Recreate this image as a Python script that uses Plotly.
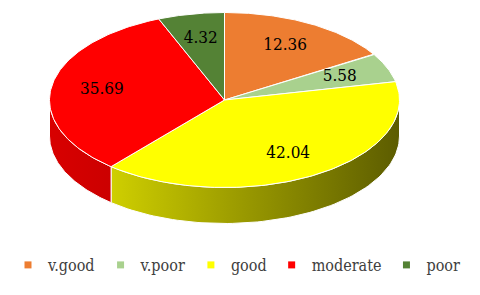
import numpy as np
import plotly.graph_objects as go

# ---- data ----
categories = ["v.good", "v.poor", "good", "moderate", "poor"]
values = [12.36, 5.58, 42.04, 35.69, 4.32]
top_colors = ["#ED7D31", "#A9D18E", "#FFFF00", "#FF0000", "#548235"]
side_scales = [
    [[0, "#D86A20"], [1, "#A04A10"]],
    [[0, "#90B878"], [1, "#6E9058"]],
    [[0, "#CFCF00"], [0.45, "#9A9A00"], [1, "#5C5C00"]],
    [[0, "#D80000"], [1, "#CC0000"]],
    [[0, "#4A7430"], [1, "#3A5C24"]],
]

LABEL_FONT = "DejaVu Serif Condensed"
LEGEND_FONT = "DejaVu Serif Condensed"

# ---- 3D-pie projection settings (page pixel units) ----
CX, CY = 224.5, 100.0      # centre of top face
RX, RY = 175.0, 87.5       # radii of top face ellipse
DEPTH = 36.0               # thickness of the pie
SKEW_A, SKEW_B = 7.0, 9.0  # perspective-like angular skew (degrees)
LABEL_R = 0.71
PAGE_OFF = 8               # browser body margin

def view_angle(t):
    r = np.radians(t)
    return t + SKEW_A * np.sin(r) + SKEW_B * np.sin(2 * r)

def rim(phi, dy=0.0):
    r = np.radians(phi)
    return CX + RX * np.sin(r), CY - RY * np.cos(r) + dy

total = sum(values)
cum = np.concatenate([[0], np.cumsum(values)]) / total * 360.0
bounds = view_angle(cum)

fig = go.Figure()

# sides (front half only)
for i in range(len(values)):
    a, b = max(bounds[i], 90.0), min(bounds[i + 1], 270.0)
    if b <= a:
        continue
    ph = np.linspace(a, b, 80)
    xt, yt = rim(ph)
    xb, yb = rim(ph[::-1], DEPTH)
    fig.add_trace(go.Scatter(
        x=np.concatenate([xt, xb, xt[:1]]), y=np.concatenate([yt, yb, yt[:1]]),
        mode="lines", fill="toself",
        fillgradient=dict(type="horizontal", colorscale=side_scales[i]),
        line=dict(color="white", width=1), showlegend=False, hoverinfo="skip"))

# top faces
for i in range(len(values)):
    ph = np.linspace(bounds[i], bounds[i + 1], 120)
    xr, yr = rim(ph)
    fig.add_trace(go.Scatter(
        x=np.concatenate([[CX], xr, [CX]]), y=np.concatenate([[CY], yr, [CY]]),
        mode="lines", fill="toself", fillcolor=top_colors[i],
        line=dict(color="white", width=1), showlegend=False, hoverinfo="skip"))

# data labels
mids = (bounds[:-1] + bounds[1:]) / 2
lx = CX + LABEL_R * RX * np.sin(np.radians(mids))
ly = CY - LABEL_R * RY * np.cos(np.radians(mids))
fig.add_trace(go.Scatter(
    x=lx, y=ly, mode="text", text=[f"{v:.2f}" for v in values],
    textfont=dict(family=LABEL_FONT, size=17, color="#000000"),
    showlegend=False, hoverinfo="skip"))

# legend entries
for c, col in zip(categories, top_colors):
    fig.add_trace(go.Scatter(
        x=[None], y=[None], mode="markers", name=c,
        marker=dict(symbol="square", size=7, color=col)))

W, H = 480 - PAGE_OFF, 295 - PAGE_OFF
fig.update_layout(
    width=W, height=H,
    margin=dict(l=0, r=0, t=0, b=0, autoexpand=False),
    paper_bgcolor="white", plot_bgcolor="white",
    xaxis=dict(range=[PAGE_OFF, PAGE_OFF + W], visible=False, fixedrange=True),
    yaxis=dict(range=[295, PAGE_OFF], visible=False, fixedrange=True),
    legend=dict(orientation="h", x=0, xanchor="left",
                y=1 - (265 - PAGE_OFF) / H, yanchor="middle",
                font=dict(family=LEGEND_FONT, size=16, color="#404040"),
                bgcolor="rgba(0,0,0,0)", itemwidth=30),
    showlegend=True,
)

fig.write_html("out.html")
